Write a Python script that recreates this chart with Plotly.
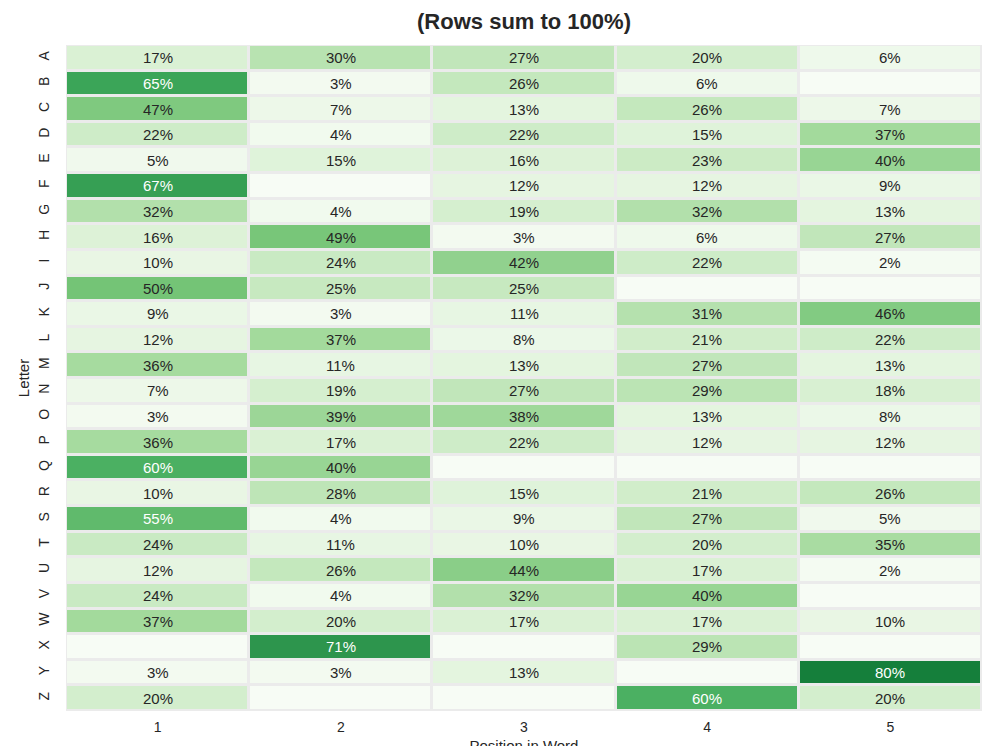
import plotly.graph_objects as go

letters = list("ABCDEFGHIJKLMNOPQRSTUVWXYZ")
positions = ["1", "2", "3", "4", "5"]
pct = [
    [17, 30, 27, 20, 6],
    [65, 3, 26, 6, 0],
    [47, 7, 13, 26, 7],
    [22, 4, 22, 15, 37],
    [5, 15, 16, 23, 40],
    [67, 0, 12, 12, 9],
    [32, 4, 19, 32, 13],
    [16, 49, 3, 6, 27],
    [10, 24, 42, 22, 2],
    [50, 25, 25, 0, 0],
    [9, 3, 11, 31, 46],
    [12, 37, 8, 21, 22],
    [36, 11, 13, 27, 13],
    [7, 19, 27, 29, 18],
    [3, 39, 38, 13, 8],
    [36, 17, 22, 12, 12],
    [60, 40, 0, 0, 0],
    [10, 28, 15, 21, 26],
    [55, 4, 9, 27, 5],
    [24, 11, 10, 20, 35],
    [12, 26, 44, 17, 2],
    [24, 4, 32, 40, 0],
    [37, 20, 17, 17, 10],
    [0, 71, 0, 29, 0],
    [3, 3, 13, 0, 80],
    [20, 0, 0, 60, 20],
]

greens = [
    [0.0, "#f7fcf5"], [0.125, "#e5f5e0"], [0.25, "#c7e9c0"], [0.375, "#a1d99b"],
    [0.5, "#74c476"], [0.625, "#41ab5d"], [0.75, "#238b45"], [0.875, "#006d2c"],
    [1.0, "#00441b"],
]

fig = go.Figure(go.Heatmap(
    z=pct, x=positions, y=letters, colorscale=greens, zmin=0, zmax=100,
    showscale=False, xgap=3, ygap=3, hoverinfo="skip",
))

annotations = []
for i, row in enumerate(pct):
    for j, v in enumerate(row):
        if v == 0:
            continue
        # category axes: numeric annotation coords are category indices
        annotations.append(dict(
            x=j, y=i, text=f"{v}%", showarrow=False,
            font=dict(size=15, color="white" if v >= 53 else "#262626"),
        ))

fig.update_layout(
    width=1000, height=746,
    margin=dict(l=58, r=26, t=37, b=43),
    paper_bgcolor="white", plot_bgcolor="#ebebeb",
    font=dict(family="Liberation Sans, Arial, sans-serif", color="#262626"),
    title=dict(text="<b>(Rows sum to 100%)</b>", xref="paper", x=0.5, xanchor="center",
               y=0.982, yanchor="middle",
               font=dict(size=22, color="#262626")),
    annotations=annotations,
    xaxis=dict(type="category", title=dict(text="Position in Word", font=dict(size=15), standoff=10),
               tickfont=dict(size=14), showgrid=False, zeroline=False, ticks="",
               ticklabelstandoff=6, automargin=False),
    yaxis=dict(type="category", title=dict(text="Letter", font=dict(size=15), standoff=2),
               autorange="reversed", tickangle=-90, tickfont=dict(size=14),
               ticklabelstandoff=13,
               showgrid=False, zeroline=False, ticks="", automargin=False),
)

fig.write_html("out.html")
